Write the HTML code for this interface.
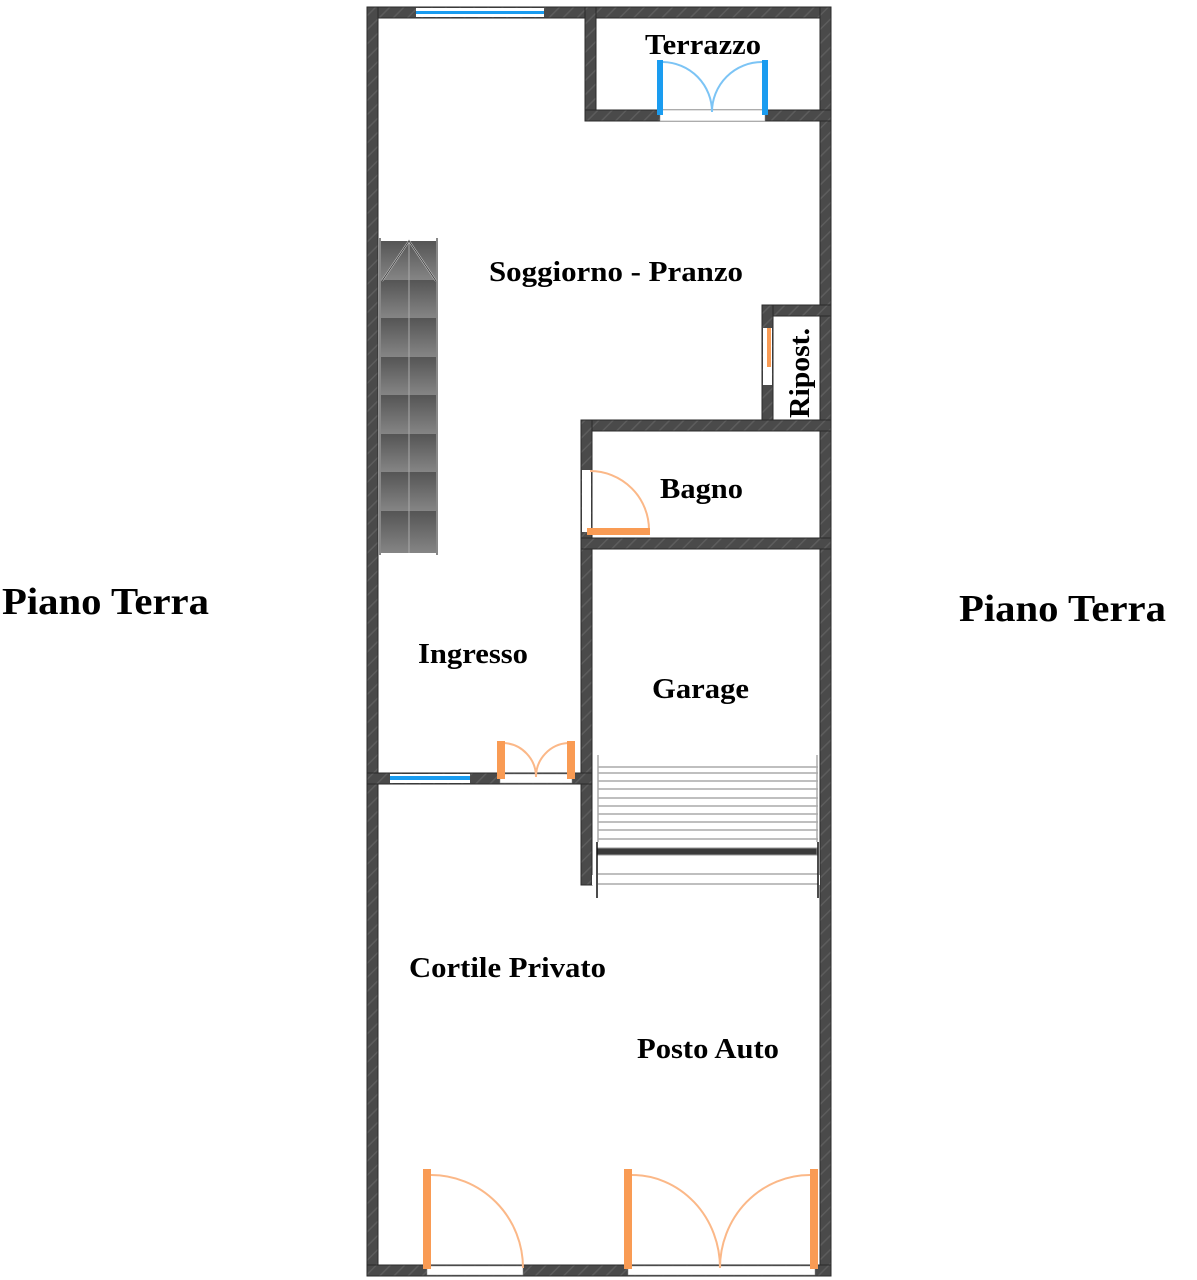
<!DOCTYPE html>
<html><head><meta charset="utf-8"><style>html,body{margin:0;padding:0;background:#fff}svg{display:block}</style></head>
<body>
<svg width="1197" height="1280" viewBox="0 0 1197 1280" xmlns="http://www.w3.org/2000/svg" font-family="Liberation Serif, serif" font-weight="bold">
<defs>
<pattern id="h" width="10" height="10" patternUnits="userSpaceOnUse" patternTransform="rotate(45)">
<rect width="10" height="10" fill="#4a4a4a"/><rect width="1.5" height="10" fill="#5c5c5c"/>
</pattern>
<linearGradient id="st" x1="0" y1="0" x2="0" y2="1"><stop offset="0" stop-color="#555"/><stop offset="1" stop-color="#858585"/></linearGradient>
</defs>
<g fill="url(#h)" stroke="#2a2a2a" stroke-width="1">
<rect x="367" y="7" width="464" height="11"/>
<rect x="367" y="7" width="11" height="1269"/>
<rect x="820" y="7" width="11" height="1269"/>
<rect x="367" y="1265" width="464" height="11"/>
<rect x="585" y="7" width="11" height="114"/>
<rect x="585" y="110" width="246" height="11"/>
<rect x="762" y="305" width="69" height="11"/>
<rect x="762" y="305" width="11" height="126"/>
<rect x="581" y="420" width="250" height="11"/>
<rect x="581" y="420" width="11" height="465"/>
<rect x="581" y="538" width="250" height="11"/>
<rect x="367" y="773" width="225" height="11"/>
</g>
<rect x="416" y="8" width="128" height="9" fill="#fff"/><rect x="416" y="11" width="128" height="3" fill="#1a9cf0"/>
<rect x="390" y="774" width="80" height="9" fill="#fff"/><rect x="390" y="776" width="80" height="4" fill="#1a9cf0"/>
<rect x="660" y="110" width="105" height="11" fill="#fff" stroke="#888" stroke-width="0.5"/>
<path d="M663 62 A50 50 0 0 1 712 112 M762 62 A50 50 0 0 0 712 112" fill="none" stroke="#7cc4f5" stroke-width="2"/>
<rect x="657" y="60" width="6" height="55" fill="#1a9cf0"/><rect x="762" y="60" width="6" height="55" fill="#1a9cf0"/>
<rect x="763" y="328" width="9" height="57" fill="#fff"/><rect x="767" y="328" width="4" height="39" fill="#f99b54"/>
<rect x="582" y="470" width="9" height="62" fill="#fff"/>
<path d="M590 471 A59 59 0 0 1 649 530" fill="none" stroke="#fbb888" stroke-width="2"/>
<rect x="587" y="528" width="63" height="7" fill="#f99b54"/>
<rect x="500" y="774" width="72" height="9" fill="#fff" stroke="#888" stroke-width="0.5"/>
<path d="M504 743 A34 34 0 0 1 536 777 M568 743 A34 34 0 0 0 536 777" fill="none" stroke="#fbb888" stroke-width="2"/>
<rect x="497" y="741" width="8" height="38" fill="#f99b54"/><rect x="567" y="741" width="8" height="38" fill="#f99b54"/>
<g>
<rect x="380" y="241" width="58" height="39" fill="url(#st)"/>
<rect x="380" y="280" width="58" height="38" fill="url(#st)"/>
<rect x="380" y="318" width="58" height="39" fill="url(#st)"/>
<rect x="380" y="357" width="58" height="38" fill="url(#st)"/>
<rect x="380" y="395" width="58" height="39" fill="url(#st)"/>
<rect x="380" y="434" width="58" height="38" fill="url(#st)"/>
<rect x="380" y="472" width="58" height="39" fill="url(#st)"/>
<rect x="380" y="511" width="58" height="42" fill="url(#st)"/>
</g>
<line x1="409" y1="240" x2="409" y2="553" stroke="#aaa" stroke-width="1"/>
<line x1="380" y1="238" x2="380" y2="555" stroke="#888" stroke-width="2"/><line x1="437" y1="238" x2="437" y2="555" stroke="#888" stroke-width="2"/>
<path d="M382 281 L409 241 L436 281" fill="none" stroke="#ccc" stroke-width="2"/>
<path d="M382 281 L409 241 L436 281" fill="none" stroke="#333" stroke-width="0.8"/>
<rect x="592" y="875" width="228" height="10" fill="#fff"/>
<g stroke="#aaa" stroke-width="1.5">
<line x1="598" y1="767" x2="818" y2="767"/><line x1="598" y1="773" x2="818" y2="773"/>
<line x1="598" y1="781" x2="818" y2="781"/><line x1="598" y1="789" x2="818" y2="789"/>
<line x1="598" y1="798" x2="818" y2="798"/><line x1="598" y1="806" x2="818" y2="806"/>
<line x1="598" y1="814" x2="818" y2="814"/><line x1="598" y1="822" x2="818" y2="822"/>
<line x1="598" y1="830" x2="818" y2="830"/><line x1="598" y1="839" x2="818" y2="839"/>
<line x1="598" y1="874" x2="818" y2="874"/><line x1="598" y1="884" x2="818" y2="884"/>
<line x1="598" y1="755" x2="598" y2="842"/><line x1="817" y1="755" x2="817" y2="842"/>
</g>
<rect x="597" y="848" width="220" height="7" fill="#3a3a3a" stroke="#999"/>
<line x1="597" y1="842" x2="597" y2="898" stroke="#111" stroke-width="1.5"/><line x1="818" y1="842" x2="818" y2="898" stroke="#111" stroke-width="1.5"/>
<rect x="427" y="1266" width="96" height="9" fill="#fff" stroke="#888" stroke-width="0.5"/>
<rect x="628" y="1266" width="187" height="9" fill="#fff" stroke="#888" stroke-width="0.5"/>
<path d="M431 1175 A92 93 0 0 1 523 1268" fill="none" stroke="#fbb888" stroke-width="2"/>
<path d="M632 1175 A88 93 0 0 1 720 1268 M810 1175 A90 93 0 0 0 720 1268" fill="none" stroke="#fbb888" stroke-width="2"/>
<rect x="423" y="1169" width="8" height="100" fill="#f99b54"/>
<rect x="624" y="1169" width="8" height="100" fill="#f99b54"/><rect x="810" y="1169" width="8" height="100" fill="#f99b54"/>
<g font-size="29" fill="#000" lengthAdjust="spacingAndGlyphs">
<text x="645" y="54" textLength="116" lengthAdjust="spacingAndGlyphs">Terrazzo</text>
<text x="489" y="281" textLength="254" lengthAdjust="spacingAndGlyphs">Soggiorno - Pranzo</text>
<text x="660" y="498" textLength="83" lengthAdjust="spacingAndGlyphs">Bagno</text>
<text x="418" y="663" textLength="110" lengthAdjust="spacingAndGlyphs">Ingresso</text>
<text x="652" y="698" textLength="97" lengthAdjust="spacingAndGlyphs">Garage</text>
<text x="409" y="977" textLength="197" lengthAdjust="spacingAndGlyphs">Cortile Privato</text>
<text x="637" y="1058" textLength="142" lengthAdjust="spacingAndGlyphs">Posto Auto</text>
<text transform="translate(809,418) rotate(-90)" textLength="90" lengthAdjust="spacingAndGlyphs">Ripost.</text>
</g>
<g font-size="38" fill="#000">
<text x="2" y="614" textLength="207" lengthAdjust="spacingAndGlyphs">Piano Terra</text>
<text x="959" y="621" textLength="207" lengthAdjust="spacingAndGlyphs">Piano Terra</text>
</g>
</svg>
</body></html>
